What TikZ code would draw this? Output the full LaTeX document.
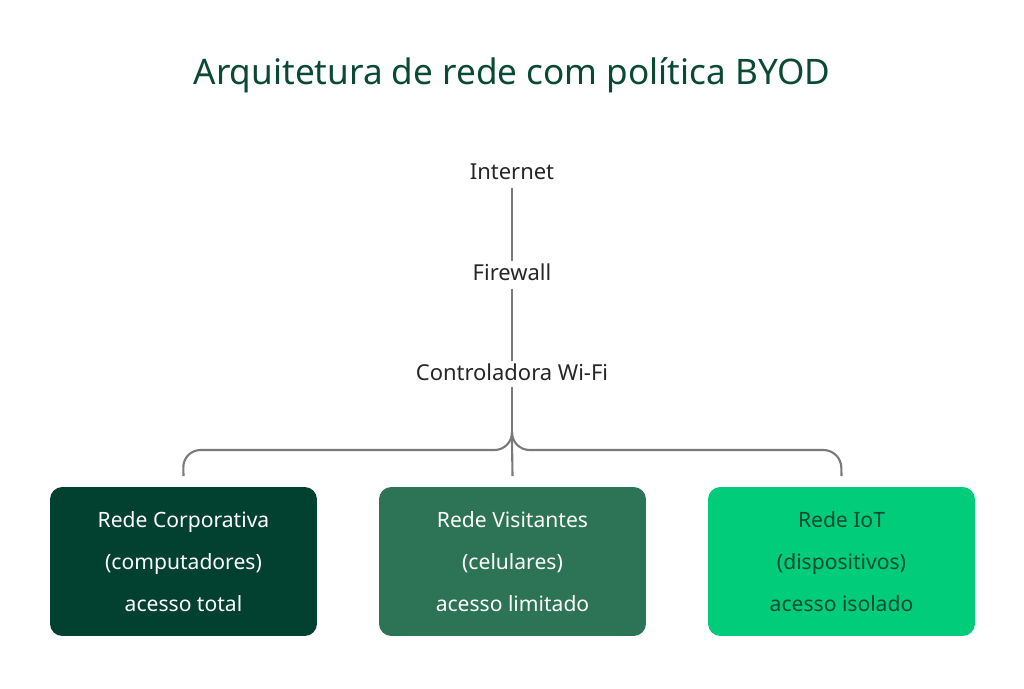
\documentclass[tikz,border=0pt]{standalone}
\usepackage{fontspec}
\setmainfont{Noto Sans}
\usetikzlibrary{positioning}
\definecolor{titlegreen}{HTML}{0A4A33}
\definecolor{corpgreen}{HTML}{024130}
\definecolor{visgreen}{HTML}{2D7355}
\definecolor{iotgreen}{HTML}{00CC7A}
\definecolor{linegray}{HTML}{7A7A7A}
\tikzset{
  label/.style={font=\fontsize{12.5}{15}\selectfont, text=black!85},
  net/.style={rounded corners=7pt, minimum width=5.34cm, minimum height=2.98cm, align=center,
    font=\fontsize{12}{24}\selectfont, text=white},
  link/.style={draw=linegray, line width=1.2pt}
}
\begin{document}
\begin{tikzpicture}[x=0.02cm,y=-0.02cm]
  \useasboundingbox (0,0) rectangle (1024,689);
  \node[font=\bfseries\fontsize{20}{24}\selectfont, text=titlegreen] (title) at (512,75){Arquitetura de rede com política BYOD};

  \node[label] (inet) at (512,172){Internet};
  \node[label] (fw) at (512,272){Firewall};
  \node[label] (ctrl) at (512,372){Controladora Wi-Fi};

  \node[net, fill=corpgreen] (corp) at (183.5,561.5){\textbf{Rede Corporativa}\\(computadores)\\acesso total};
  \node[net, fill=visgreen] (vis) at (512.5,561.5){\textbf{Rede Visitantes}\\(celulares)\\acesso limitado};
  \node[net, fill=iotgreen, text=titlegreen] (iot) at (841.5,561.5){\textbf{Rede IoT}\\(dispositivos)\\acesso isolado};

  \coordinate (hub) at (512,440);
  \draw[link] (inet.south) ++(0,2) -- ([yshift=-2]fw.north);
  \draw[link] (fw.south) ++(0,2) -- ([yshift=-2]ctrl.north);
  \draw[link] (ctrl.south) -- (hub);
  \draw[link, rounded corners=10pt] (hub) -- ++(0,10) -- (183,450) -- ([yshift=6]corp.north);
  \draw[link, rounded corners=10pt] (hub) -- ++(0,10) -- (841,450) -- ([yshift=6]iot.north);
  \draw[link] (hub) -- ([yshift=6]vis.north);
\end{tikzpicture}
\end{document}
